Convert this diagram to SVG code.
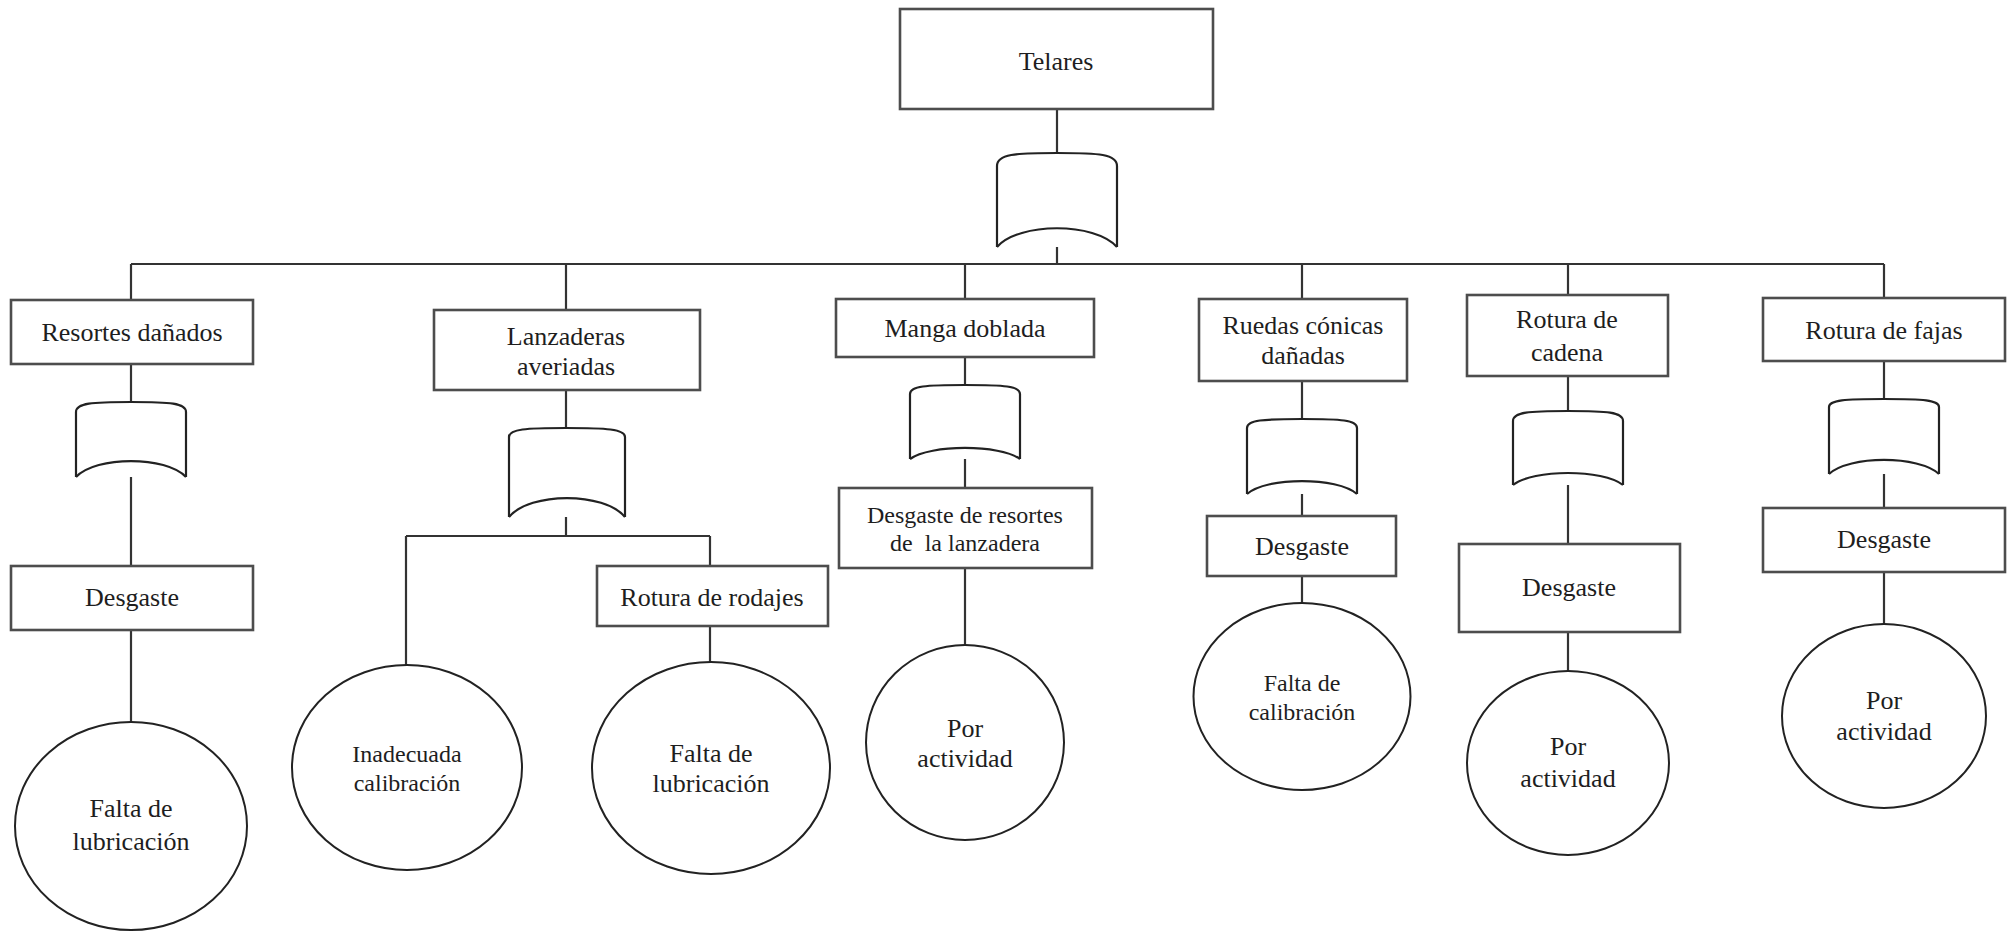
<svg xmlns="http://www.w3.org/2000/svg" width="2007" height="932" viewBox="0 0 2007 932">
  <style>
    .box { fill: #fff; stroke: #4d4d4d; stroke-width: 2.6; }
    .gate { fill: #fff; stroke: #222; stroke-width: 2.2; stroke-linejoin: round; }
    .circ { fill: #fff; stroke: #222; stroke-width: 2; }
    .wire { fill: none; stroke: #333; stroke-width: 2.2; }
    text { font-family: "Liberation Serif", "Times New Roman", serif; fill: #1e1e1e; text-anchor: middle; }
    .t26 { font-size: 26px; }
    .t24 { font-size: 24px; }
  </style>
  <rect width="2007" height="932" fill="#fff"/>

  <!-- connectors -->
  <g id="connectors" class="wire">
    <path d="M1057,109 V153 M1057,228 V264"/>
    <path d="M131,264 H1884"/>
    <path d="M131,264 V300 M566,264 V310 M965,264 V299 M1302,264 V299 M1568,264 V295 M1884,264 V298"/>
    <path d="M131,364 V402 M131,461 V566 M131,630 V722"/>
    <path d="M566,390 V428 M566,498 V536 M406,536 H710 M406,536 V665 M710,536 V566 M710,626 V662"/>
    <path d="M965,357 V385 M965,448 V488 M965,568 V645"/>
    <path d="M1302,381 V419 M1302,481 V516 M1302,576 V603"/>
    <path d="M1568,376 V411 M1568,473 V544 M1568,632 V671"/>
    <path d="M1884,361 V399 M1884,460 V508 M1884,572 V624"/>
  </g>

  <!-- top event -->
  <g id="telares">
    <rect class="box" x="900" y="9" width="313" height="100"/>
    <text class="t26" x="1056" y="70">Telares</text>
  </g>
  <g id="gate-telares" class="gate">
    <path d="M997,247 L997,166 C997,154 1015,153 1057,153 C1099,153 1117,154 1117,166 L1117,247"/>
    <path d="M997,247 C1019,222 1095,222 1117,247"/>
  </g>

  <!-- branch 1 -->
  <g id="resortes">
    <rect class="box" x="11" y="300" width="242" height="64"/>
    <text class="t26" x="132" y="341">Resortes dañados</text>
  </g>
  <g id="gate-resortes" class="gate">
    <path d="M76,477 L76,412 C76,403 92,402 131,402 C170,402 186,403 186,412 L186,477"/>
    <path d="M76,477 C96,455.7 166,455.7 186,477"/>
  </g>
  <g id="desgaste-1">
    <rect class="box" x="11" y="566" width="242" height="64"/>
    <text class="t26" x="132" y="606">Desgaste</text>
  </g>
  <g id="lubricacion-1">
    <ellipse class="circ" cx="131" cy="826" rx="116" ry="104"/>
    <text class="t26" x="131" y="817">Falta de</text>
    <text class="t26" x="131" y="850">lubricación</text>
  </g>

  <!-- branch 2 -->
  <g id="lanzaderas">
    <rect class="box" x="434" y="310" width="266" height="80"/>
    <text class="t26" x="566" y="345">Lanzaderas</text>
    <text class="t26" x="566" y="375">averiadas</text>
  </g>
  <g id="gate-lanzaderas" class="gate">
    <path d="M509,517 L509,437 C509,429 526,428 566,428 C606,428 625,429 625,437 L625,517"/>
    <path d="M509,517 C530,491.7 604,491.7 625,517"/>
  </g>
  <g id="inadecuada">
    <ellipse class="circ" cx="407" cy="767.5" rx="115" ry="102.5"/>
    <text class="t24" x="407" y="762">Inadecuada</text>
    <text class="t24" x="407" y="791">calibración</text>
  </g>
  <g id="rodajes">
    <rect class="box" x="597" y="566" width="231" height="60"/>
    <text class="t26" x="712" y="606">Rotura de rodajes</text>
  </g>
  <g id="lubricacion-2">
    <ellipse class="circ" cx="711" cy="768" rx="119" ry="106"/>
    <text class="t26" x="711" y="762">Falta de</text>
    <text class="t26" x="711" y="792">lubricación</text>
  </g>

  <!-- branch 3 -->
  <g id="manga">
    <rect class="box" x="836" y="299" width="258" height="58"/>
    <text class="t26" x="965" y="337">Manga doblada</text>
  </g>
  <g id="gate-manga" class="gate">
    <path d="M910,459 L910,394 C910,386 926,385 965,385 C1004,385 1020,386 1020,394 L1020,459"/>
    <path d="M910,459 C930,444.3 1000,444.3 1020,459"/>
  </g>
  <g id="desgaste-resortes">
    <rect class="box" x="839" y="488" width="253" height="80"/>
    <text class="t24" x="965" y="523">Desgaste de resortes</text>
    <text class="t24" x="965" y="551" xml:space="preserve">de  la lanzadera</text>
  </g>
  <g id="actividad-3">
    <ellipse class="circ" cx="965" cy="742.5" rx="99" ry="97.5"/>
    <text class="t26" x="965" y="737">Por</text>
    <text class="t26" x="965" y="767">actividad</text>
  </g>

  <!-- branch 4 -->
  <g id="ruedas">
    <rect class="box" x="1199" y="299" width="208" height="82"/>
    <text class="t26" x="1303" y="334">Ruedas cónicas</text>
    <text class="t26" x="1303" y="364">dañadas</text>
  </g>
  <g id="gate-ruedas" class="gate">
    <path d="M1247,494 L1247,428 C1247,420 1263,419 1302,419 C1341,419 1357,420 1357,428 L1357,494"/>
    <path d="M1247,494 C1267,476.7 1337,476.7 1357,494"/>
  </g>
  <g id="desgaste-4">
    <rect class="box" x="1207" y="516" width="189" height="60"/>
    <text class="t26" x="1302" y="555">Desgaste</text>
  </g>
  <g id="calibracion-4">
    <ellipse class="circ" cx="1302" cy="696.5" rx="108.5" ry="93.5"/>
    <text class="t24" x="1302" y="691">Falta de</text>
    <text class="t24" x="1302" y="720">calibración</text>
  </g>

  <!-- branch 5 -->
  <g id="cadena">
    <rect class="box" x="1467" y="295" width="201" height="81"/>
    <text class="t26" x="1567" y="328">Rotura de</text>
    <text class="t26" x="1567" y="361">cadena</text>
  </g>
  <g id="gate-cadena" class="gate">
    <path d="M1513,485 L1513,421 C1513,412 1529,411 1568,411 C1607,411 1623,412 1623,421 L1623,485"/>
    <path d="M1513,485 C1533,469 1603,469 1623,485"/>
  </g>
  <g id="desgaste-5">
    <rect class="box" x="1459" y="544" width="221" height="88"/>
    <text class="t26" x="1569" y="596">Desgaste</text>
  </g>
  <g id="actividad-5">
    <ellipse class="circ" cx="1568" cy="763" rx="101" ry="92"/>
    <text class="t26" x="1568" y="755">Por</text>
    <text class="t26" x="1568" y="787">actividad</text>
  </g>

  <!-- branch 6 -->
  <g id="fajas">
    <rect class="box" x="1763" y="298" width="242" height="63"/>
    <text class="t26" x="1884" y="339">Rotura de fajas</text>
  </g>
  <g id="gate-fajas" class="gate">
    <path d="M1829,474 L1829,407 C1829,400 1845,399 1884,399 C1923,399 1939,400 1939,407 L1939,474"/>
    <path d="M1829,474 C1849,455.3 1919,455.3 1939,474"/>
  </g>
  <g id="desgaste-6">
    <rect class="box" x="1763" y="508" width="242" height="64"/>
    <text class="t26" x="1884" y="548">Desgaste</text>
  </g>
  <g id="actividad-6">
    <ellipse class="circ" cx="1884" cy="716" rx="102" ry="92"/>
    <text class="t26" x="1884" y="709">Por</text>
    <text class="t26" x="1884" y="740">actividad</text>
  </g>
</svg>
